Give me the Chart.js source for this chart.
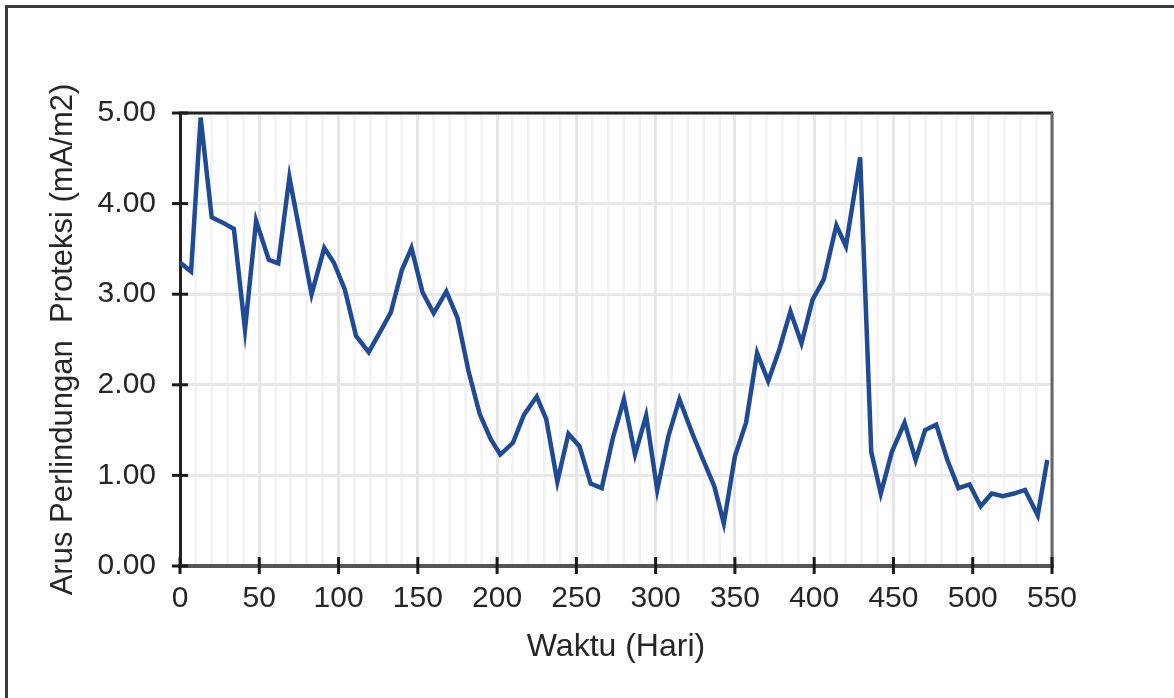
<!DOCTYPE html>
<html>
<head>
<meta charset="utf-8">
<script src="https://cdn.jsdelivr.net/npm/chart.js@4.4.1/dist/chart.umd.min.js"></script>
<style>
  html, body { margin: 0; padding: 0; background: #fff; }
  #wrap { position: relative; width: 1174px; height: 698px; }
  #frame { position: absolute; left: 5px; top: 5px; right: 0; bottom: 0;
           border-left: 3px solid #3c3c3c; border-top: 3px solid #3c3c3c; pointer-events: none; }
  canvas { position: absolute; left: 0; top: 0; }
</style>
</head>
<body>
<div id="wrap">
  <canvas id="arusChart" width="1174" height="698"></canvas>
  <div id="frame"></div>
</div>
<script>
// days of measurement (Hari)
const days = [0, 7, 13, 20, 27, 34, 41, 48, 56, 62, 69, 83, 91, 97, 104, 111, 119, 127, 133, 140,
  146, 153, 160, 168, 175, 182, 189, 196, 202, 210, 217, 225, 231, 238, 245, 252, 259, 266, 273, 280,
  287, 294, 301, 308, 315, 323, 330, 337, 343, 350, 357, 364, 371, 378, 385, 392, 399, 406, 414, 420,
  429, 436, 442, 449, 457, 464, 470, 477, 484, 491, 498, 505, 512, 519, 526, 533, 541, 547];

// protection current density (mA/m2)
const arus = [3.35, 3.25, 4.95, 3.85, 3.79, 3.72, 2.61, 3.81, 3.38, 3.34, 4.29, 3.00, 3.51, 3.35, 3.05, 2.54, 2.36, 2.61, 2.80, 3.27,
  3.51, 3.02, 2.79, 3.03, 2.74, 2.15, 1.68, 1.40, 1.23, 1.36, 1.67, 1.87, 1.62, 0.93, 1.46, 1.32, 0.91, 0.86, 1.41, 1.84,
  1.23, 1.66, 0.84, 1.43, 1.84, 1.47, 1.17, 0.88, 0.47, 1.21, 1.58, 2.35, 2.04, 2.39, 2.81, 2.46, 2.94, 3.16, 3.76, 3.53,
  4.51, 1.26, 0.80, 1.26, 1.58, 1.17, 1.50, 1.56, 1.17, 0.86, 0.90, 0.66, 0.80, 0.77, 0.80, 0.84, 0.56, 1.17];

const xMajorTicks = [0, 50, 100, 150, 200, 250, 300, 350, 400, 450, 500, 550];
const yTicks = [0, 1, 2, 3, 4, 5];

const points = days.map((d, i) => ({ x: d, y: arus[i] }));

// draws the top/right frame of the plot and the tick marks that cross the axes
const frameAndTicks = {
  id: 'frameAndTicks',
  afterDraw(chart) {
    const { ctx, chartArea: a, scales } = chart;
    ctx.save();
    ctx.lineCap = 'butt';
    // top border
    ctx.strokeStyle = '#222';
    ctx.lineWidth = 3;
    ctx.beginPath();
    ctx.moveTo(a.left - 1, a.top);
    ctx.lineTo(a.right + 1, a.top);
    ctx.stroke();
    // right border
    ctx.strokeStyle = '#666';
    ctx.beginPath();
    ctx.moveTo(a.right, a.top);
    ctx.lineTo(a.right, a.bottom + 2);
    ctx.stroke();
    // tick marks
    ctx.strokeStyle = '#1a1a1a';
    ctx.lineWidth = 3;
    yTicks.forEach(v => {
      const y = scales.y.getPixelForValue(v);
      ctx.beginPath();
      ctx.moveTo(a.left - 8, y);
      ctx.lineTo(a.left + 8, y);
      ctx.stroke();
    });
    xMajorTicks.forEach(v => {
      const x = scales.x.getPixelForValue(v);
      ctx.beginPath();
      ctx.moveTo(x, a.bottom - 9);
      ctx.lineTo(x, a.bottom + 8);
      ctx.stroke();
    });
    ctx.restore();
  }
};

const ctx = document.getElementById('arusChart').getContext('2d');
new Chart(ctx, {
  type: 'line',
  data: {
    datasets: [{
      data: points,
      borderColor: '#1f4b96',
      borderWidth: 4.5,
      pointRadius: 0,
      tension: 0,
      fill: false,
    }]
  },
  options: {
    responsive: false,
    animation: false,
    layout: { padding: { top: 113, right: 122, left: 0, bottom: 0 } },
    plugins: { legend: { display: false }, tooltip: { enabled: false } },
    scales: {
      x: {
        type: 'linear',
        min: 0,
        max: 550,
        afterFit: s => { s.height = 132; },
        ticks: {
          stepSize: 10,
          autoSkip: false,
          maxRotation: 0,
          padding: 7,
          color: '#262626',
          font: { family: 'Liberation Sans, Arial', size: 30 },
          callback: v => (v % 50 === 0 ? String(v) : ''),
        },
        grid: {
          color: c => (c.tick && c.tick.value % 50 === 0 ? '#e6e6e6' : '#f4f4f4'),
          lineWidth: 3,
          tickLength: 8,
          tickColor: 'rgba(0,0,0,0)',
        },
        border: { color: '#555', width: 4 },
        title: {
          display: true,
          text: 'Waktu (Hari)',
          color: '#262626',
          font: { family: 'Liberation Sans, Arial', size: 32 },
          padding: { top: 0, bottom: 32 },
        },
      },
      y: {
        min: 0,
        max: 5,
        afterFit: s => { s.width = 180; },
        ticks: {
          stepSize: 1,
          padding: 16,
          color: '#262626',
          font: { family: 'Liberation Sans, Arial', size: 30 },
          callback: v => v.toFixed(2),
        },
        grid: {
          color: '#e8e8e8',
          lineWidth: 3,
          tickLength: 8,
          tickColor: 'rgba(0,0,0,0)',
        },
        border: { color: '#222', width: 3 },
        title: {
          display: true,
          text: 'Arus Perlindungan  Proteksi (mA/m2)',
          color: '#262626',
          font: { family: 'Liberation Sans, Arial', size: 31 },
          padding: { top: 45, bottom: 0 },
        },
      },
    },
  },
  plugins: [frameAndTicks],
});
</script>
</body>
</html>
